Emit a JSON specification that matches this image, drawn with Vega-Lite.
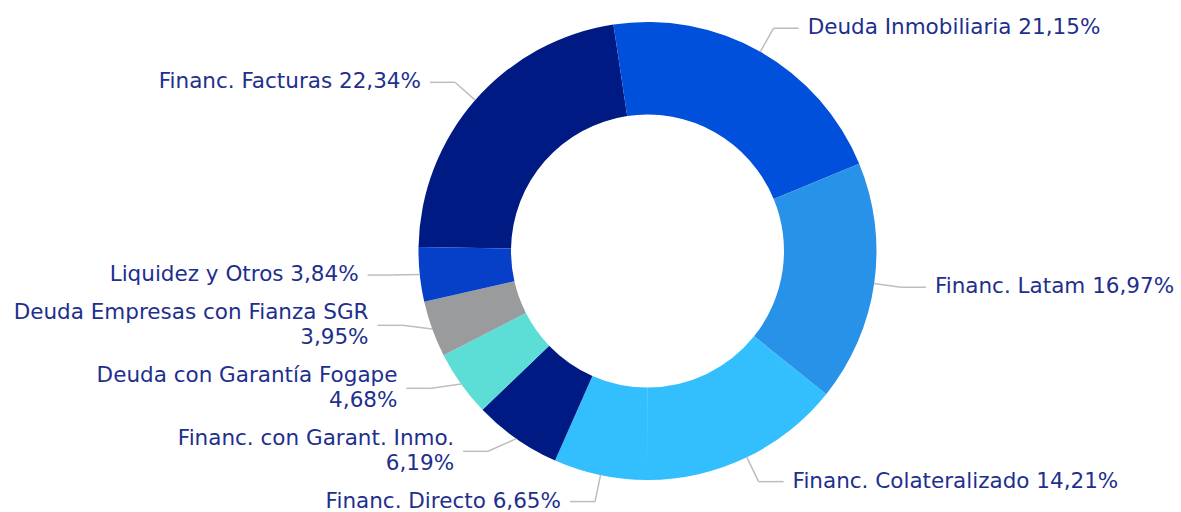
{
  "$schema": "https://vega.github.io/schema/vega-lite/v6.json",
  "width": 1181,
  "height": 512,
  "autosize": "none",
  "padding": 0,
  "background": "white",
  "config": {"view": {"stroke": null}, "font": "DejaVu Sans"},
  "data": {
    "values": [
      {"categoria": "Financ. Facturas", "pct": 22.34, "etiqueta": "Financ. Facturas 22,34%"},
      {"categoria": "Deuda Inmobiliaria", "pct": 21.15, "etiqueta": "Deuda Inmobiliaria 21,15%"},
      {"categoria": "Financ. Latam", "pct": 16.97, "etiqueta": "Financ. Latam 16,97%"},
      {"categoria": "Financ. Colateralizado", "pct": 14.21, "etiqueta": "Financ. Colateralizado 14,21%"},
      {"categoria": "Financ. Directo", "pct": 6.65, "etiqueta": "Financ. Directo 6,65%"},
      {"categoria": "Financ. con Garant. Inmo.", "pct": 6.19, "etiqueta": "Financ. con Garant. Inmo.\n6,19%"},
      {"categoria": "Deuda con Garantía Fogape", "pct": 4.68, "etiqueta": "Deuda con Garantía Fogape\n4,68%"},
      {"categoria": "Deuda Empresas con Fianza SGR", "pct": 3.95, "etiqueta": "Deuda Empresas con Fianza SGR\n3,95%"},
      {"categoria": "Liquidez y Otros", "pct": 3.84, "etiqueta": "Liquidez y Otros 3,84%"}
    ]
  },
  "transform": [
    {"stack": "pct", "groupby": [], "sort": [{"field": "pct", "order": "descending"}], "as": ["s0", "s1"]},
    {"joinaggregate": [{"op": "sum", "field": "pct", "as": "tot"}]},
    {"calculate": "-89*PI/180 + PI*(datum.s0+datum.s1)/datum.tot", "as": "ang"},
    {"calculate": "sin(datum.ang)", "as": "sa"},
    {"calculate": "cos(datum.ang)", "as": "ca"},
    {"calculate": "datum.sa >= 0 ? 1 : -1", "as": "lado"},
    {"calculate": "datum.ca >= 0 ? 1 : -1", "as": "hemi"},
    {"calculate": "length(split(datum.etiqueta, '\\n')) * 25.5", "as": "h"},
    {"calculate": "-datum.hemi * 256 * datum.ca", "as": "znat"},
    {"window": [{"op": "lag", "field": "h", "as": "hprev"}], "groupby": ["lado", "hemi"], "sort": [{"field": "znat", "order": "ascending"}]},
    {"calculate": "isValid(datum.hprev) ? (datum.hprev + datum.h)/2 + 12 : 0", "as": "gapp"},
    {"window": [{"op": "sum", "field": "gapp", "as": "G"}], "groupby": ["lado", "hemi"], "sort": [{"field": "znat", "order": "ascending"}], "frame": [null, 0]},
    {"calculate": "datum.znat - datum.G", "as": "w"},
    {"window": [{"op": "max", "field": "w", "as": "M"}], "groupby": ["lado", "hemi"], "sort": [{"field": "znat", "order": "ascending"}], "frame": [null, 0]},
    {"calculate": "-datum.hemi * (datum.M + datum.G)", "as": "yl"},
    {"calculate": "datum.lado * sqrt(max(0, 256*256 - datum.yl*datum.yl))", "as": "xl"},
    {"calculate": "229*datum.sa", "as": "px1"},
    {"calculate": "229*datum.ca", "as": "py1"},
    {"calculate": "datum.xl + 25*datum.lado", "as": "px3"},
    {"calculate": "datum.px3 + 9*datum.lado", "as": "tx"},
    {"calculate": "datum.yl + (datum.h - 25.5)/2", "as": "ty"}
  ],
  "layer": [
    {
      "mark": {"type": "arc", "outerRadius": 229, "innerRadius": 136.5},
      "encoding": {
        "x": {"datum": 0, "type": "quantitative", "scale": {"domain": [-647.5, 533.5], "nice": false, "zero": false}, "axis": null},
        "y": {"datum": 0, "type": "quantitative", "scale": {"domain": [-261, 251], "nice": false, "zero": false}, "axis": null},
        "theta": {"field": "s1", "type": "quantitative", "stack": null, "scale": {"range": [-1.553343, 4.729842]}},
        "theta2": {"field": "s0"},
        "color": {
          "field": "categoria",
          "type": "nominal",
          "legend": null,
          "scale": {
            "domain": ["Financ. Facturas", "Deuda Inmobiliaria", "Financ. Latam", "Financ. Colateralizado", "Financ. Directo", "Financ. con Garant. Inmo.", "Deuda con Garantía Fogape", "Deuda Empresas con Fianza SGR", "Liquidez y Otros"],
            "range": ["#001a84", "#0050dc", "#2891e8", "#33bffd", "#33bffd", "#001a84", "#5cddd6", "#9a9b9d", "#0640c8"]
          }
        }
      }
    },
    {
      "mark": {"type": "rule", "color": "#bdbdbd", "strokeWidth": 1.5},
      "encoding": {
        "x": {"field": "px1", "type": "quantitative", "scale": {"domain": [-647.5, 533.5], "nice": false, "zero": false}, "axis": null},
        "y": {"field": "py1", "type": "quantitative", "scale": {"domain": [-261, 251], "nice": false, "zero": false}, "axis": null},
        "x2": {"field": "xl"},
        "y2": {"field": "yl"}
      }
    },
    {
      "mark": {"type": "rule", "color": "#bdbdbd", "strokeWidth": 1.5},
      "encoding": {
        "x": {"field": "xl", "type": "quantitative", "scale": {"domain": [-647.5, 533.5], "nice": false, "zero": false}, "axis": null},
        "y": {"field": "yl", "type": "quantitative", "scale": {"domain": [-261, 251], "nice": false, "zero": false}, "axis": null},
        "x2": {"field": "px3"},
        "y2": {"field": "yl"}
      }
    },
    {
      "mark": {
        "type": "text",
        "align": {"expr": "datum.lado > 0 ? 'left' : 'right'"},
        "baseline": "middle",
        "fontSize": 21.5,
        "lineBreak": "\n",
        "lineHeight": 25.5,
        "color": "#1e2f8d"
      },
      "encoding": {
        "x": {"field": "tx", "type": "quantitative", "scale": {"domain": [-647.5, 533.5], "nice": false, "zero": false}, "axis": null},
        "y": {"field": "ty", "type": "quantitative", "scale": {"domain": [-261, 251], "nice": false, "zero": false}, "axis": null},
        "text": {"field": "etiqueta"}
      }
    }
  ]
}
